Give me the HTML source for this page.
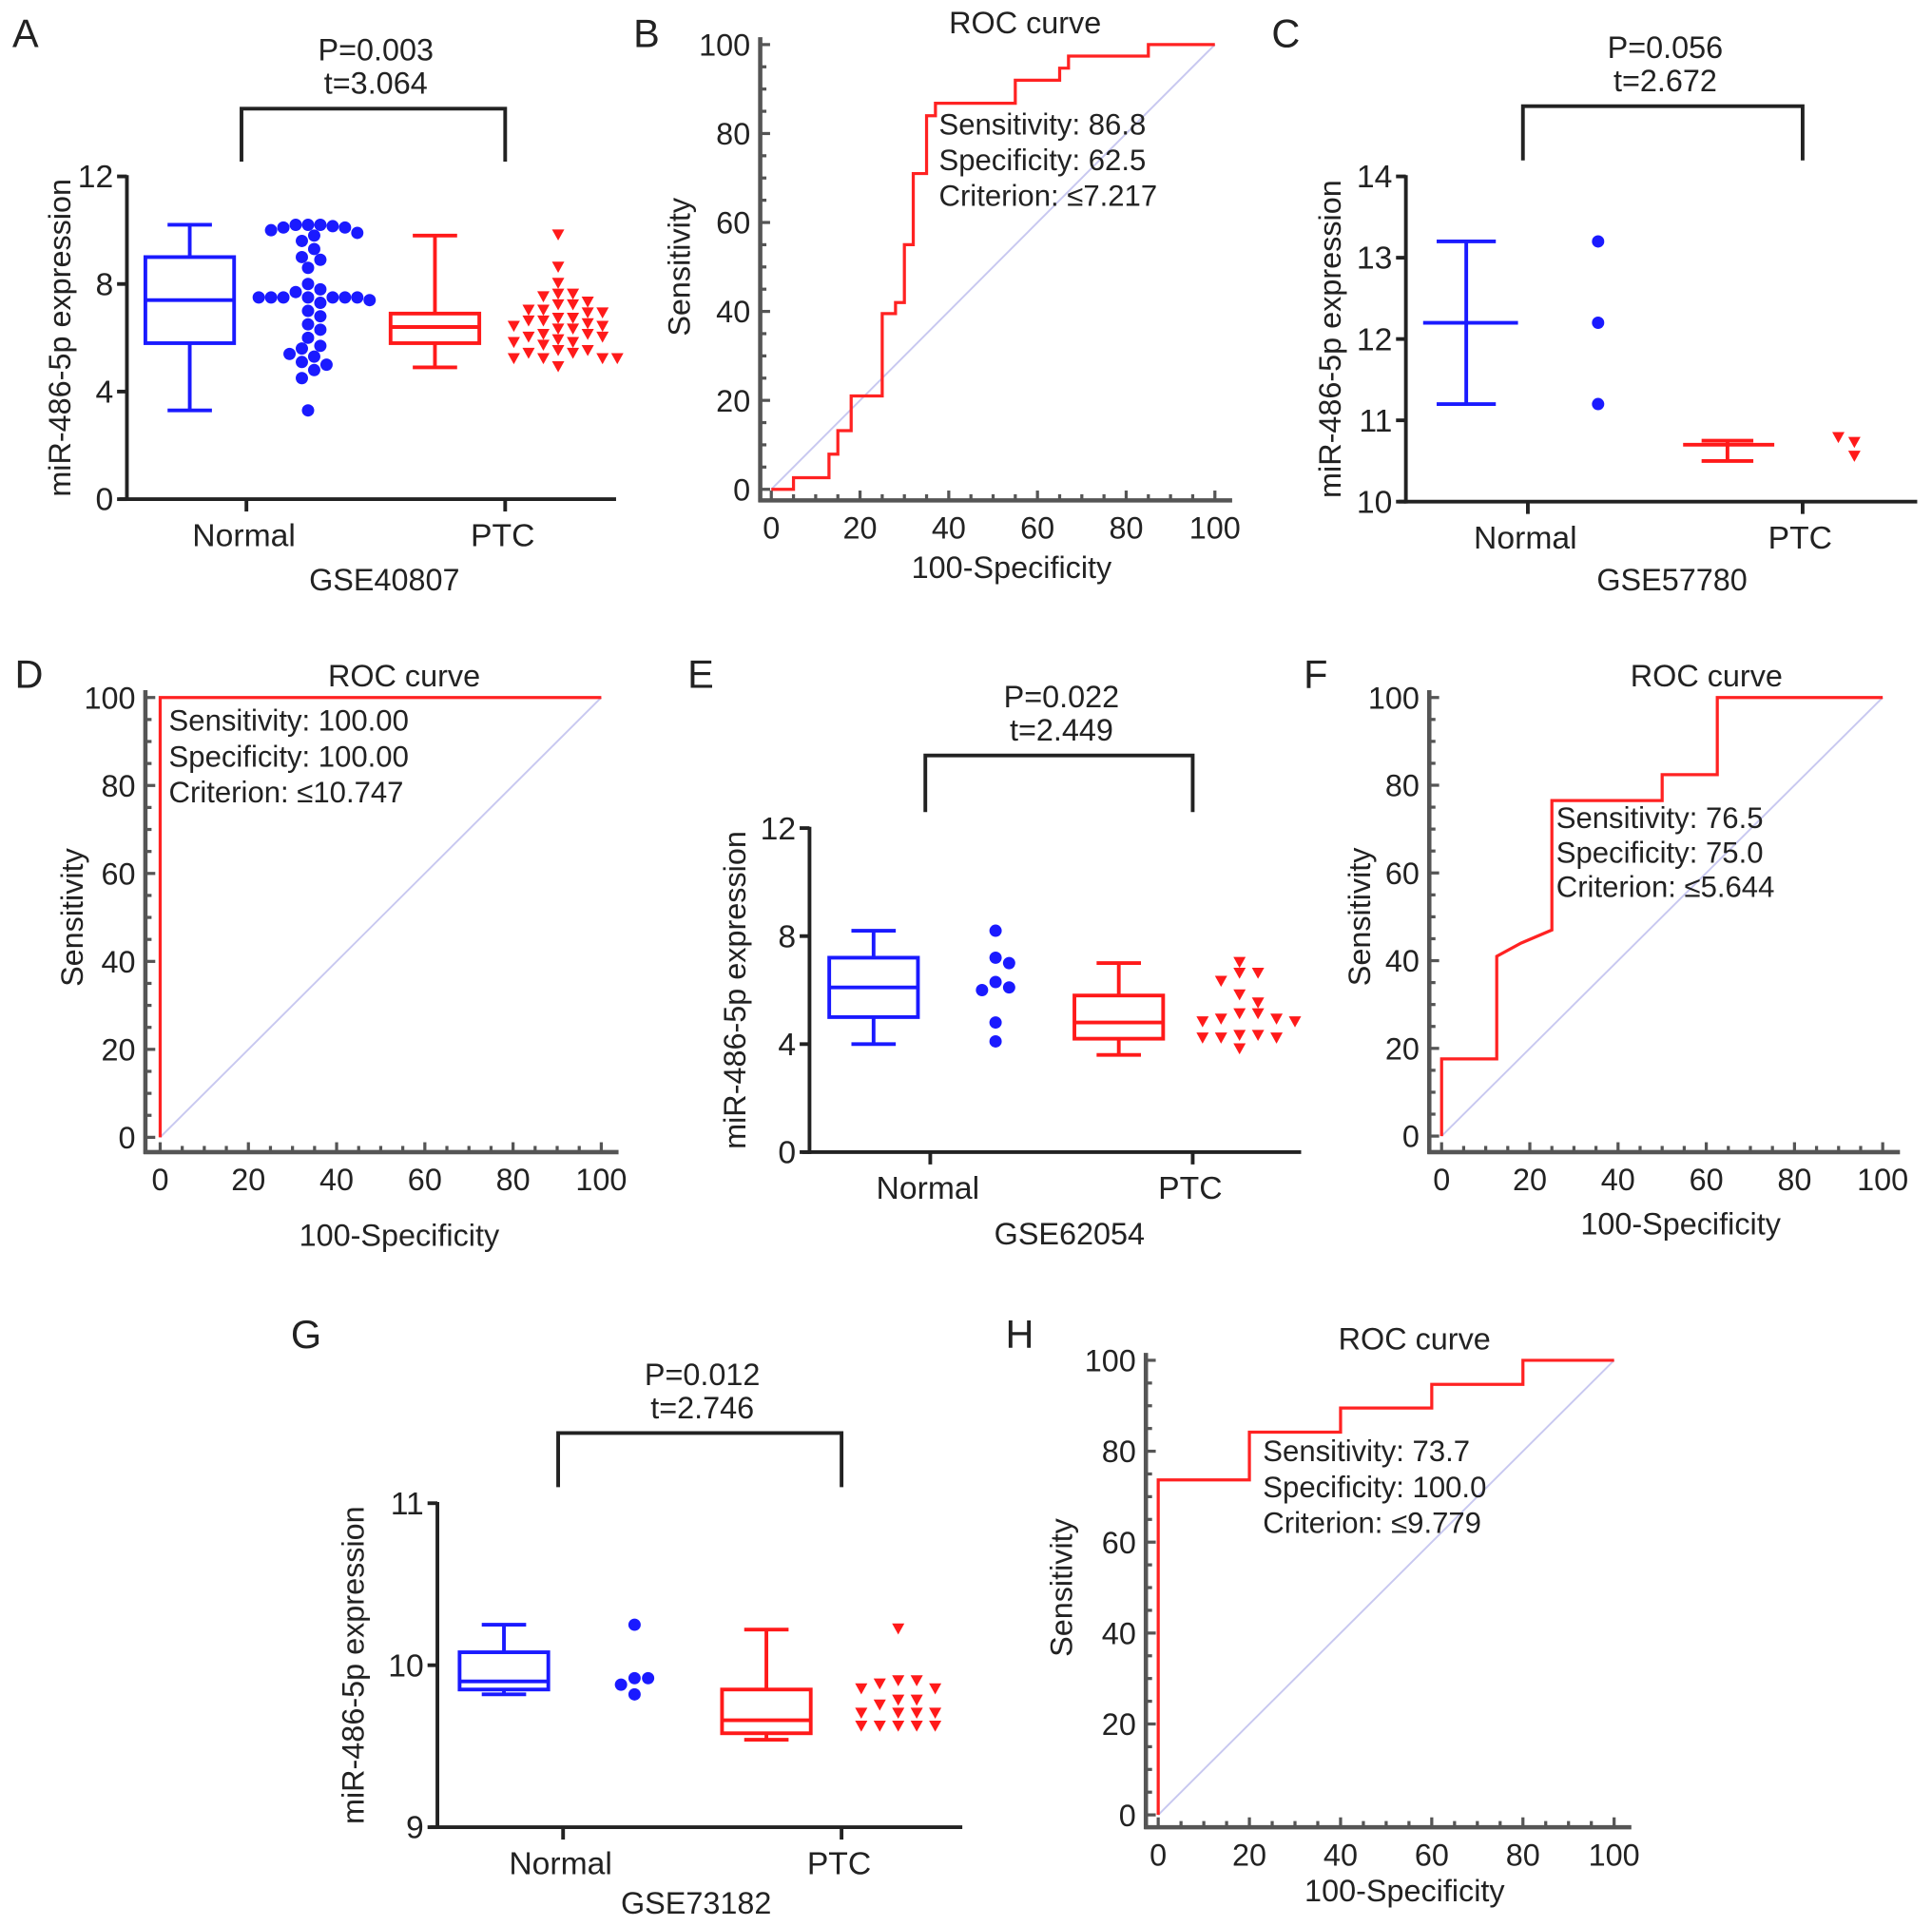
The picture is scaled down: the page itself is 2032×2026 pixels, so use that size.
<!DOCTYPE html>
<html><head><meta charset="utf-8"><style>
html,body{margin:0;padding:0;background:#fff;}
svg{display:block;font-family:"Liberation Sans",Arial,sans-serif;}
</style></head><body>
<svg id="fig" width="2032" height="2026" viewBox="0 0 1568 1563" xmlns="http://www.w3.org/2000/svg"></svg>
<script>
// ---------- DATA ----------
const categories = ["Normal","PTC"];
// Panel A GSE40807
const aNormalBox = [3.3,5.8,7.4,9.0,10.2];
const aPtcBox = [4.9,5.8,6.4,6.9,9.8];
const aNormalDots = [10.2,10.2,10.15,10.1,10.2,10.1,10.0,9.9,9.8,9.6,9.3,9.0,8.9,8.6,8.0,7.8,7.7,7.5,7.5,7.5,7.5,7.5,7.5,7.5,7.4,7.3,7.0,6.8,6.5,6.3,6.0,5.7,5.6,5.4,5.3,5.1,5.0,4.8,4.5,3.3];
const aPtcDots = [9.8,8.6,8.0,7.6,7.6,7.5,7.3,7.2,7.2,7.0,7.0,6.9,6.9,6.7,6.7,6.6,6.6,6.5,6.4,6.4,6.3,6.3,6.1,6.1,6.0,6.0,5.9,5.8,5.8,5.7,5.5,5.5,5.4,5.4,5.2,5.2,5.2,5.2,4.9];
const aTicks = [0,4,8,12];
// Panel C GSE57780
const cNormalBar = [11.2,12.2,13.2];
const cPtcBar = [10.5,10.7,10.75];
const cNormalDots = [13.2,12.2,11.2];
const cPtcDots = [10.78,10.72,10.55];
const cTicks = [10,11,12,13,14];
// Panel E GSE62054
const eNormalBox = [4.0,5.0,6.1,7.2,8.2];
const ePtcBox = [3.6,4.2,4.8,5.8,7.0];
const eNormalDots = [8.2,7.2,7.0,6.3,6.1,6.0,4.8,4.1];
const ePtcDots = [7.0,6.6,6.6,6.3,5.8,5.5,5.1,5.1,4.9,4.9,4.8,4.8,4.3,4.3,4.2,4.2,4.2,3.8];
const eTicks = [0,4,8,12];
// Panel G GSE73182
const gNormalBox = [9.82,9.85,9.9,10.08,10.25];
const gPtcBox = [9.54,9.58,9.66,9.85,10.22];
const gNormalDots = [10.25,9.92,9.92,9.88,9.82];
const gPtcDots = [10.22,9.9,9.9,9.88,9.85,9.85,9.78,9.78,9.75,9.7,9.7,9.7,9.7,9.62,9.62,9.62,9.62,9.62];
const gTicks = [9,10,11];
// ROC curves [x,y]
const rocBx = [0,5,5,13,13,15,15,18,18,25,25,28,28,30,30,32,32,35,35,37,37,55,55,65,65,67,67,85,85,100];
const rocBy = [0,0,2.6,2.6,7.9,7.9,13.2,13.2,21,21,39.5,39.5,42,42,55,55,71,71,84,84,86.8,86.8,92,92,94.7,94.7,97.4,97.4,100,100];
const rocDx = [0,0,100];
const rocDy = [0,100,100];
const rocFx = [0,0,12.5,12.5,18,25,25,50,50,62.5,62.5,100];
const rocFy = [0,17.6,17.6,41,44,47,76.5,76.5,82.4,82.4,100,100];
const rocHx = [0,0,20,20,40,40,60,60,80,80,100];
const rocHy = [0,73.7,73.7,84.2,84.2,89.5,89.5,94.7,94.7,100,100];
const rocTicks = [0,20,40,60,80,100];

// ---------- HELPERS ----------
const NS="http://www.w3.org/2000/svg";
const svg=document.getElementById('fig');
function mk(tag,attrs,parent,name){
  const e=document.createElementNS(NS,tag);
  for(const k in attrs)e.setAttribute(k,attrs[k]);
  
  
  (parent||svg).appendChild(e);return e;
}
function txt(x,y,s,size,name,anchor,extra,parent){
  const t=mk('text',Object.assign({x:x,y:y,'font-size':size,'text-anchor':anchor||'middle',fill:'#222'},extra||{}),parent,name);
  t.textContent=s;return t;
}
function lin(x1,y1,x2,y2,stroke,w,name,parent){
  return mk('line',{x1:x1,y1:y1,x2:x2,y2:y2,stroke:stroke,'stroke-width':w},parent,name);
}
function scale(d0,d1,p0,p1){return v=>p0+(v-d0)/(d1-d0)*(p1-p0);}

function boxPlot(g,sx,y,st,col,w,name){
  const [mn,q1,md,q3,mx]=st;
  lin(sx,y(mx),sx,y(q3),col,3,name+'-whisker-top',g);
  lin(sx,y(q1),sx,y(mn),col,3,name+'-whisker-bottom',g);
  lin(sx-w*0.5,y(mx),sx+w*0.5,y(mx),col,3,name+'-cap-top',g);
  lin(sx-w*0.5,y(mn),sx+w*0.5,y(mn),col,3,name+'-cap-bottom',g);
  mk('rect',{x:sx-w,y:y(q3),width:2*w,height:y(q1)-y(q3),fill:'none',stroke:col,'stroke-width':3},g,name+'-box');
  lin(sx-w,y(md),sx+w,y(md),col,3,name+'-median',g);
}
function swarm(g,cx,y,vals,col,shape,d,name){
  const placed=[];
  const sorted=vals.slice().sort((a,b)=>b-a);
  const dyMin = shape==='dot'?d:8;
  sorted.forEach(v=>{
    const py=y(v);let px=cx;
    for(let k=0;k<60;k++){
      const off=(k===0?0:(Math.ceil(k/2)*(k%2?1:-1)))*d*0.5;
      const cand=cx+off;
      const ok = shape==='dot'
        ? placed.every(p=>Math.hypot(p[0]-cand,p[1]-py)>=d-0.01)
        : placed.every(p=>Math.abs(p[0]-cand)>=d-0.01||Math.abs(p[1]-py)>=dyMin);
      if(ok){px=cand;break;}
    }
    placed.push([px,py]);
    if(shape==='dot'){
      mk('circle',{cx:px,cy:py,r:5,fill:col},g,name+'-point');
    }else{
      mk('polygon',{points:`${px-5},${py-5} ${px+5},${py-5} ${px},${py+4}`,fill:col},g,name+'-point');
    }
  });
}
function expPanel(o){
  const g=mk('g',{},svg,o.name);
  const y=scale(o.ymin,o.ymax,o.y0,o.y1);
  txt(o.lx,o.ly,o.letter,32,'panel-label',"start",{},g);
  lin(o.ax,o.y1-1,o.ax,o.y0+1.5,'#222',3,'y-axis',g);
  lin(o.ax-6,o.y0,o.axEnd,o.y0,'#222',3,'x-axis',g);
  o.ticks.forEach(t=>{
    lin(o.ax-8,y(t),o.ax,y(t),'#222',3,'y-tick',g);
    txt(o.ax-11,y(t)+9,String(t),26,'y-tick-label','end',{},g);
  });
  [o.tn,o.tp].forEach((tx,i)=>{
    lin(tx,o.y0,tx,o.y0+10,'#222',3,'x-tick',g);
    txt(tx-2,o.y0+38,categories[i],26,'x-tick-label','middle',{},g);
  });
  txt(o.gseX,o.gseY,o.gse,25,'x-axis-title','middle',{},g);
  txt(0,0,'miR-486-5p expression',25,'y-axis-title','middle',{transform:`translate(${o.titleX},${(o.y0+o.y1)/2}) rotate(-90)`},g);
  mk('path',{d:`M${o.tn-4},${o.bB} V${o.bT} H${o.tp} V${o.bB}`,fill:'none',stroke:'#222','stroke-width':3},g,'significance-bracket');
  txt((o.tn+o.tp)/2,o.bT-39,o.p,25,'p-value-label','middle',{},g);
  txt((o.tn+o.tp)/2,o.bT-12,o.t,25,'t-value-label','middle',{},g);
  return {g,y};
}
function rocPanel(o){
  const g=mk('g',{},svg,o.name);
  const x=scale(0,100,o.x0,o.x100), y=scale(0,100,o.y0,o.y100);
  txt(o.lx,o.ly,o.letter,32,'panel-label','start',{},g);
  txt(o.ttX,o.y100-9,'ROC curve',25,'chart-title','middle',{},g);
  lin(o.ax,o.y100-6,o.ax,o.axY+1.5,'#555',3.5,'y-axis',g);
  lin(o.ax-1.5,o.axY,o.x100+14,o.axY,'#555',3.5,'x-axis',g);
  for(let v=0;v<=100;v+=5){
    const major=v%20===0;
    lin(o.ax,y(v),o.ax+(major?8:5),y(v),'#555',2.5,'y-tick',g);
    lin(x(v),o.axY,x(v),o.axY-(major?8:5),'#555',2.5,'x-tick',g);
  }
  rocTicks.forEach(v=>{
    txt(o.ax-8,y(v)+9,String(v),25,'y-tick-label','end',{},g);
    txt(x(v),o.axY+31,String(v),25,'x-tick-label','middle',{},g);
  });
  txt(0,0,'Sensitivity',25,'y-axis-title','middle',{transform:`translate(${o.titleX},${(o.y0+o.y100)/2}) rotate(-90)`},g);
  txt((o.x0+o.x100)/2+15,o.xtY,'100-Specificity',25,'x-axis-title','middle',{},g);
  lin(x(0),y(0),x(100),y(100),'#c8c8f0',1.5,'reference-diagonal',g);
  let d='';o.xs.forEach((v,i)=>{d+=(i?'L':'M')+x(v)+','+y(o.ys[i]);});
  mk('path',{d:d,fill:'none',stroke:'#f22','stroke-width':2.5,'stroke-linejoin':'miter'},g,'roc-curve');
  o.lines.forEach((s,i)=>txt(o.tx,o.ty+i*o.tdy,s,24,'cutoff-annotation','start',{},g));
}

// ---------- PANELS ----------
let P;
P=expPanel({name:'panel-a',letter:'A',lx:10,ly:38,ax:103,axEnd:500,y0:405,y1:143,ymin:0,ymax:12,ticks:aTicks,tn:200,tp:410,gse:'GSE40807',gseX:312,gseY:479,titleX:57,bT:88,bB:131,p:'P=0.003',t:'t=3.064'});
boxPlot(P.g,154,P.y,aNormalBox,'#1a1aff',36,'normal-box');
boxPlot(P.g,353,P.y,aPtcBox,'#ff1a1a',36,'ptc-box');
swarm(P.g,250,P.y,aNormalDots,'#1a1aff','dot',10,'normal-dots');
swarm(P.g,453,P.y,aPtcDots,'#ff1a1a','tri',12,'ptc-dots');

P=expPanel({name:'panel-c',letter:'C',lx:1032,ly:38,ax:1141,axEnd:1556,y0:407,y1:143,ymin:10,ymax:14,ticks:cTicks,tn:1240,tp:1463,gse:'GSE57780',gseX:1357,gseY:479,titleX:1088,bT:86,bB:130,p:'P=0.056',t:'t=2.672'});
(function(){const g=P.g,y=P.y,b='#1a1aff',r='#ff1a1a';
 lin(1190,y(cNormalBar[0]),1190,y(cNormalBar[2]),b,3,'normal-errorbar',g);
 lin(1166,y(cNormalBar[2]),1214,y(cNormalBar[2]),b,3,'normal-cap-top',g);
 lin(1166,y(cNormalBar[0]),1214,y(cNormalBar[0]),b,3,'normal-cap-bottom',g);
 lin(1155,y(cNormalBar[1]),1232,y(cNormalBar[1]),b,3,'normal-mean',g);
 lin(1402,y(cPtcBar[0]),1402,y(cPtcBar[2]),r,3,'ptc-errorbar',g);
 lin(1381,y(cPtcBar[2]),1423,y(cPtcBar[2]),r,3,'ptc-cap-top',g);
 lin(1381,y(cPtcBar[0]),1423,y(cPtcBar[0]),r,3,'ptc-cap-bottom',g);
 lin(1366,y(cPtcBar[1]),1440,y(cPtcBar[1]),r,3,'ptc-mean',g);
 swarm(g,1297,y,cNormalDots,b,'dot',10,'normal-dots');
 cPtcDots.forEach((v,i)=>{const px=1492+(i?13:0),py=y(v);
  mk('polygon',{points:`${px-5},${py-5} ${px+5},${py-5} ${px},${py+4}`,fill:r},g,'ptc-dots-point');});
})();

P=expPanel({name:'panel-e',letter:'E',lx:558,ly:558,ax:657,axEnd:1056,y0:935,y1:672,ymin:0,ymax:12,ticks:eTicks,tn:755,tp:968,gse:'GSE62054',gseX:868,gseY:1010,titleX:605,bT:613,bB:659,p:'P=0.022',t:'t=2.449'});
boxPlot(P.g,709,P.y,eNormalBox,'#1a1aff',36,'normal-box');
boxPlot(P.g,908,P.y,ePtcBox,'#ff1a1a',36,'ptc-box');
swarm(P.g,808,P.y,eNormalDots,'#1a1aff','dot',11,'normal-dots');
swarm(P.g,1006,P.y,ePtcDots,'#ff1a1a','tri',15,'ptc-dots');

P=expPanel({name:'panel-g',letter:'G',lx:236,ly:1094,ax:355,axEnd:781,y0:1483,y1:1220,ymin:9,ymax:11,ticks:gTicks,tn:457,tp:683,gse:'GSE73182',gseX:565,gseY:1553,titleX:295,bT:1163,bB:1207,p:'P=0.012',t:'t=2.746'});
boxPlot(P.g,409,P.y,gNormalBox,'#1a1aff',36,'normal-box');
boxPlot(P.g,622,P.y,gPtcBox,'#ff1a1a',36,'ptc-box');
swarm(P.g,515,P.y,gNormalDots,'#1a1aff','dot',11,'normal-dots');
swarm(P.g,729,P.y,gPtcDots,'#ff1a1a','tri',15,'ptc-dots');

rocPanel({name:'panel-b',letter:'B',lx:514,ly:38,ax:617,axY:406,x0:626,x100:986,y0:397,y100:36,ttX:832,titleX:560,xtY:469,xs:rocBx,ys:rocBy,tx:762,ty:109,tdy:29,lines:['Sensitivity: 86.8','Specificity: 62.5','Criterion: \u22647.217']});
rocPanel({name:'panel-d',letter:'D',lx:12,ly:558,ax:118,axY:935,x0:130,x100:488,y0:923,y100:566,ttX:328,titleX:67,xtY:1011,xs:rocDx,ys:rocDy,tx:137,ty:593,tdy:29,lines:['Sensitivity: 100.00','Specificity: 100.00','Criterion: \u226410.747']});
rocPanel({name:'panel-f',letter:'F',lx:1058,ly:558,ax:1160,axY:935,x0:1170,x100:1528,y0:922,y100:566,ttX:1385,titleX:1112,xtY:1002,xs:rocFx,ys:rocFy,tx:1263,ty:672,tdy:28,lines:['Sensitivity: 76.5','Specificity: 75.0','Criterion: \u22645.644']});
rocPanel({name:'panel-h',letter:'H',lx:816,ly:1094,ax:930,axY:1483,x0:940,x100:1310,y0:1473,y100:1104,ttX:1148,titleX:870,xtY:1543,xs:rocHx,ys:rocHy,tx:1025,ty:1186,tdy:29,lines:['Sensitivity: 73.7','Specificity: 100.0','Criterion: \u22649.779']});
</script>
</body></html>
